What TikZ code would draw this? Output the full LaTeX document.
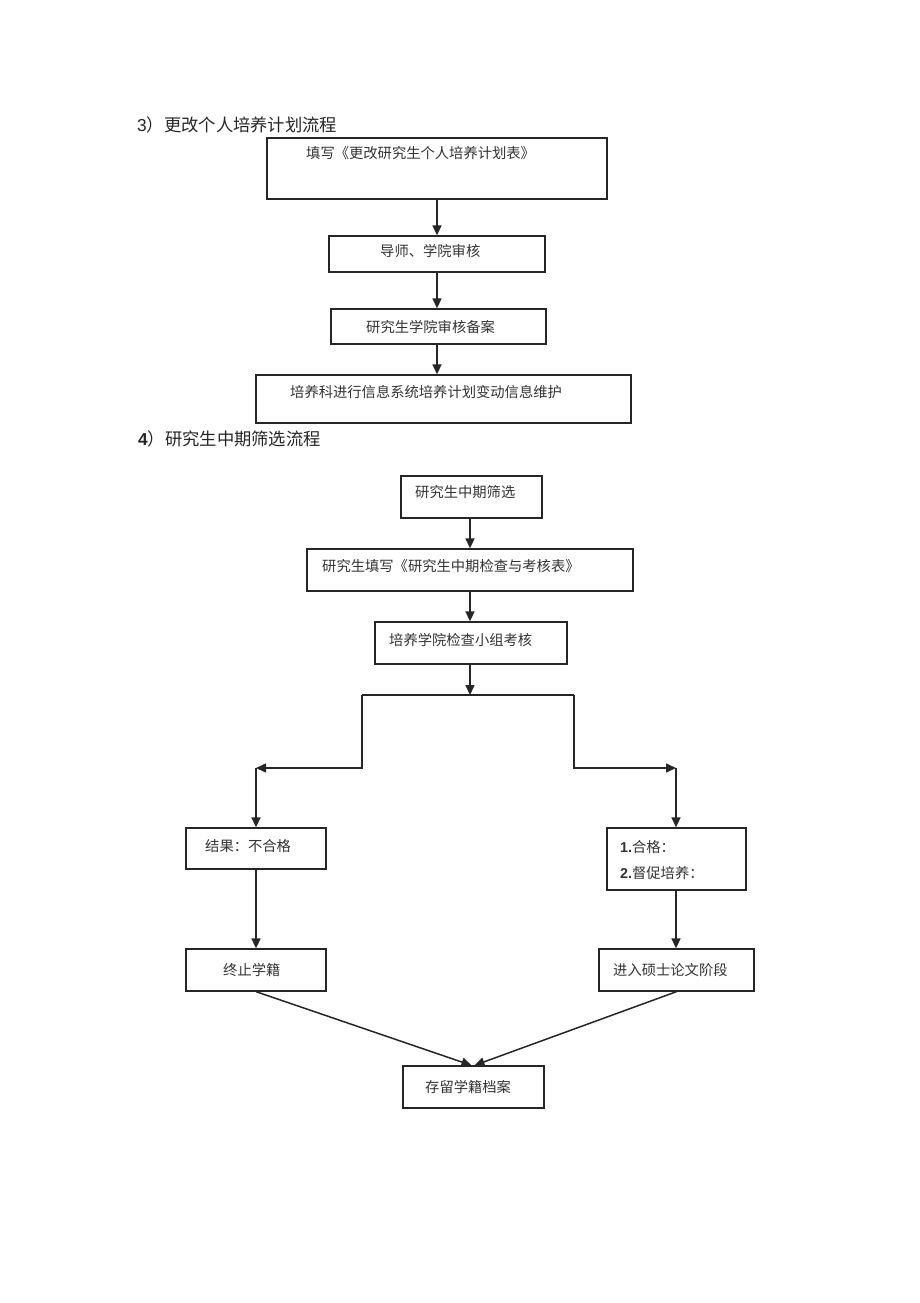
\documentclass[tikz,border=0pt]{standalone}
\usepackage{fontspec}
\setmainfont{Liberation Sans}
\newfontfamily\cjk{Noto Sans CJK SC}
\newfontfamily\lat{Liberation Sans}
\usetikzlibrary{arrows.meta}
\begin{document}
\begin{tikzpicture}[x=1pt,y=-1pt,
  box/.style={draw=black!85, line width=1.3pt, rectangle, inner sep=0pt},
  txt/.style={anchor=west, inner sep=0pt, font=\cjk\fontsize{14.3}{18}\selectfont, text=black!80},
  ttl/.style={anchor=west, inner sep=0pt, font=\cjk\fontsize{17.3}{20}\selectfont, text=black!85},
  arr/.style={draw=black!85, line width=1.5pt, -{Triangle[length=10pt,width=9pt]}},
  ln/.style={draw=black!85, line width=1.5pt}]
\useasboundingbox (0,0) rectangle (920,1303);
\fill[white] (0,0) rectangle (920,1303);

% ---- section 3 ----
\node[ttl] (h3) at (137,125) {{\lat 3}）更改个人培养计划流程};
\node[box, minimum width=340pt, minimum height=61pt] (b1) at (437,168.5) {};
\node[box, minimum width=216pt, minimum height=36pt] (b2) at (437,254) {};
\node[box, minimum width=215pt, minimum height=35pt] (b3) at (438.5,326.5) {};
\node[box, minimum width=375pt, minimum height=48pt] (b4) at (443.5,399) {};
\node[txt] (tb1) at (306,153) {填写《更改研究生个人培养计划表》};
\node[txt] (tb2) at (380,251) {导师、学院审核};
\node[txt] (tb3) at (366,327) {研究生学院审核备案};
\node[txt] (tb4) at (290,392) {培养科进行信息系统培养计划变动信息维护};
\coordinate (ax3) at (437,0);
\draw[arr] (ax3 |- b1.south) -- (ax3 |- b2.north);
\draw[arr] (ax3 |- b2.south) -- (ax3 |- b3.north);
\draw[arr] (ax3 |- b3.south) -- (ax3 |- b4.north);

% ---- section 4 ----
\node[ttl] (h4) at (138,439) {{\lat\bfseries 4}）研究生中期筛选流程};
\node[box, minimum width=141pt, minimum height=42pt] (c1) at (471.5,497) {};
\node[box, minimum width=326pt, minimum height=42pt] (c2) at (470,570) {};
\node[box, minimum width=192pt, minimum height=42pt] (c3) at (471,643) {};
\node[txt] (tc1) at (415,492) {研究生中期筛选};
\node[txt] (tc2) at (322,566) {研究生填写《研究生中期检查与考核表》};
\node[txt] (tc3) at (389,640) {培养学院检查小组考核};
\coordinate (ax4) at (470,0);
\draw[arr] (ax4 |- c1.south) -- (ax4 |- c2.north);
\draw[arr] (ax4 |- c2.south) -- (ax4 |- c3.north);

\coordinate (sp) at (470,695);
\coordinate (sl) at (362,695);
\coordinate (sr) at (574,695);
\coordinate (kl) at (256,768);
\coordinate (kr) at (676,768);
\draw[arr] (ax4 |- c3.south) -- (sp);
\draw[ln] (sl) -- (sr);
\draw[arr] (sl) |- (kl);
\draw[arr] (sr) |- (kr);

\node[box, minimum width=140pt, minimum height=41pt] (d1) at (256,848.5) {};
\node[box, minimum width=139pt, minimum height=62pt] (d2) at (676.5,859) {};
\node[txt] (td1) at (205,846) {结果：不合格};
\node[txt] (td2a) at (620,847) {{\lat\bfseries 1.}合格：};
\node[txt] (td2b) at (620,873) {{\lat\bfseries 2.}督促培养：};
\draw[arr] (kl) -- (kl |- d1.north);
\draw[arr] (kr) -- (kr |- d2.north);

\node[box, minimum width=140pt, minimum height=42pt] (e1) at (256,970) {};
\node[box, minimum width=155pt, minimum height=42pt] (e2) at (676.5,970) {};
\node[txt] (te1) at (223,970) {终止学籍};
\node[txt] (te2) at (613,970) {进入硕士论文阶段};
\draw[arr] (kl |- d1.south) -- (kl |- e1.north);
\draw[arr] (kr |- d2.south) -- (kr |- e2.north);

\node[box, minimum width=141pt, minimum height=42pt] (f) at (473.5,1087) {};
\node[txt] (tf) at (425,1087) {存留学籍档案};
\draw[arr] (e1.south) -- ([xshift=-2pt]f.north);
\draw[arr] (e2.south) -- ([xshift=1pt]f.north);
\end{tikzpicture}
\end{document}
